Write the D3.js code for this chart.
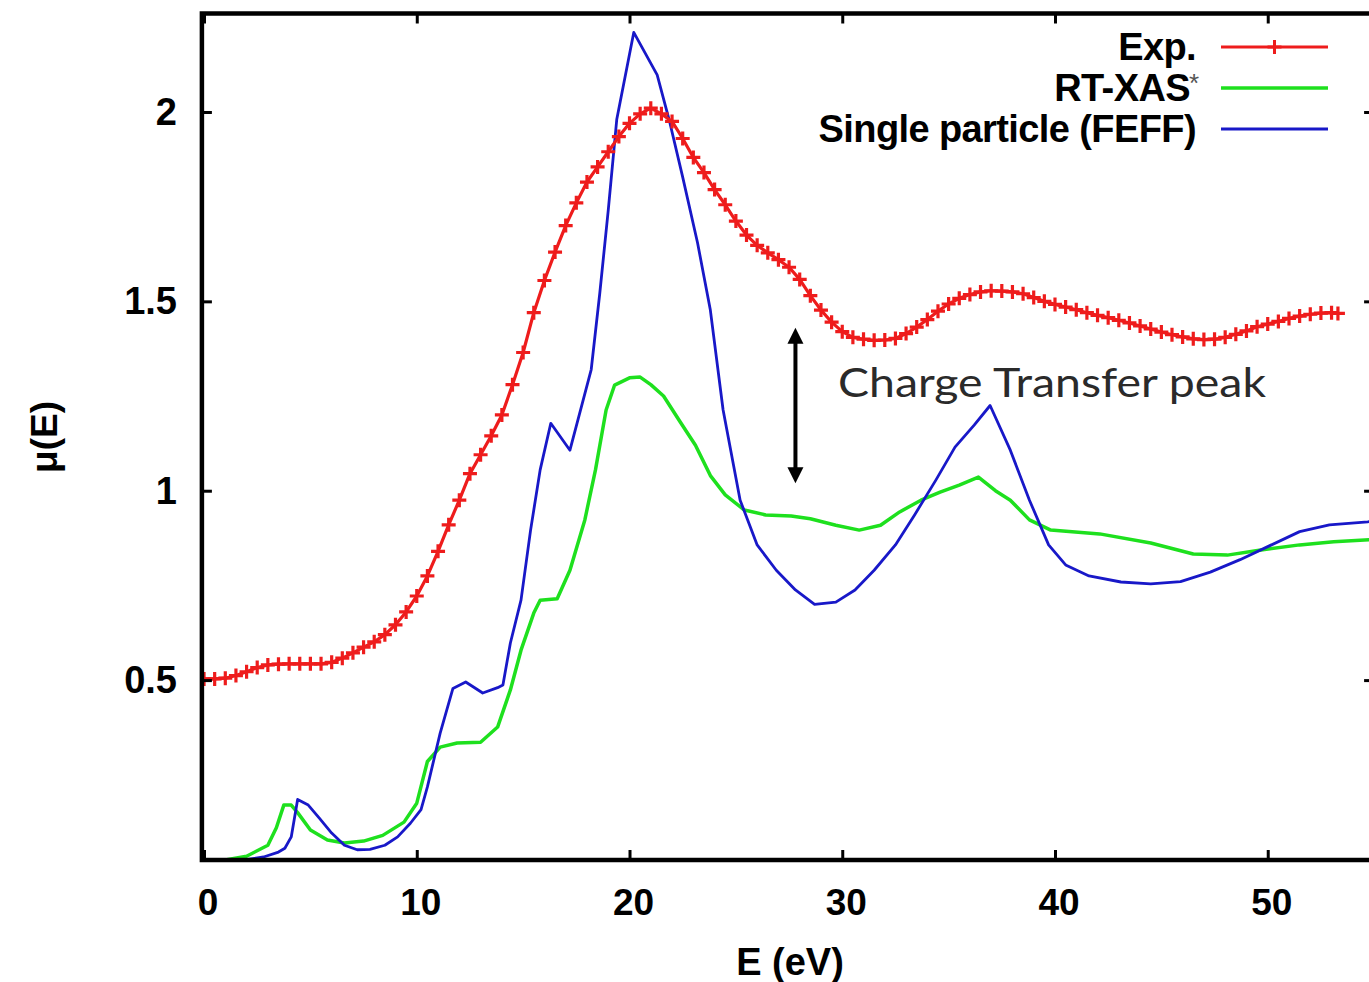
<!DOCTYPE html>
<html><head><meta charset="utf-8">
<script src="https://cdn.jsdelivr.net/npm/d3@7"></script>
<style>html,body{margin:0;padding:0;background:#fff;} svg{display:block;}</style>
</head><body>
<svg id="chart" width="1369" height="982"></svg>
<script>
// ---- data ----
const expE = [0.0,0.5,1.0,1.5,2.0,2.5,3.0,3.5,4.0,4.5,5.0,5.5,6.0,6.5,7.0,7.5,8.0,8.5,9.0,9.5,10.0,10.5,11.0,11.5,12.0,12.5,13.0,13.5,14.0,14.5,15.0,15.5,16.0,16.5,17.0,17.5,18.0,18.5,19.0,19.5,20.0,20.5,21.0,21.5,22.0,22.5,23.0,23.5,24.0,24.5,25.0,25.5,26.0,26.5,27.0,27.5,28.0,28.5,29.0,29.5,30.0,30.5,31.0,31.5,32.0,32.5,33.0,33.5,34.0,34.5,35.0,35.5,36.0,36.5,37.0,37.5,38.0,38.5,39.0,39.5,40.0,40.5,41.0,41.5,42.0,42.5,43.0,43.5,44.0,44.5,45.0,45.5,46.0,46.5,47.0,47.5,48.0,48.5,49.0,49.5,50.0,50.5,51.0,51.5,52.0,52.5,53.0,53.3];
const expMu = [0.503,0.503,0.505,0.512,0.522,0.533,0.540,0.542,0.543,0.543,0.543,0.543,0.547,0.558,0.572,0.587,0.601,0.620,0.646,0.680,0.722,0.775,0.840,0.910,0.975,1.045,1.095,1.145,1.200,1.280,1.365,1.470,1.555,1.630,1.700,1.760,1.815,1.855,1.895,1.935,1.970,1.995,2.010,1.995,1.975,1.930,1.880,1.840,1.795,1.755,1.712,1.675,1.648,1.628,1.610,1.590,1.558,1.515,1.477,1.445,1.420,1.405,1.400,1.397,1.398,1.402,1.415,1.432,1.452,1.474,1.493,1.508,1.518,1.525,1.528,1.527,1.525,1.520,1.510,1.500,1.492,1.485,1.478,1.470,1.463,1.457,1.450,1.443,1.435,1.427,1.419,1.412,1.406,1.401,1.399,1.400,1.405,1.413,1.422,1.433,1.440,1.447,1.455,1.461,1.466,1.469,1.470,1.468];

const rtE = [1.0,2.0,3.0,3.4,3.75,4.1,4.4,5.0,5.8,6.6,7.5,8.4,9.4,10.0,10.5,11.1,11.9,13.0,13.8,14.4,14.9,15.5,15.8,16.6,17.2,17.9,18.4,18.9,19.3,20.0,20.5,21.0,21.6,22.4,23.1,23.8,24.5,25.4,26.4,27.6,28.5,29.7,30.8,31.8,32.7,33.7,34.6,35.5,36.4,37.2,37.9,38.8,39.8,42.1,44.5,46.5,48.1,49.6,51.5,53.1,55.0];
const rtMu = [0.025,0.035,0.064,0.110,0.170,0.170,0.150,0.104,0.078,0.070,0.075,0.090,0.125,0.175,0.285,0.323,0.334,0.336,0.376,0.474,0.579,0.677,0.711,0.715,0.790,0.923,1.055,1.213,1.279,1.298,1.300,1.280,1.250,1.180,1.120,1.040,0.989,0.949,0.936,0.933,0.926,0.909,0.896,0.909,0.944,0.975,0.996,1.015,1.036,1.000,0.975,0.923,0.896,0.886,0.862,0.833,0.830,0.843,0.857,0.865,0.871];

const feffE = [1.0,1.9,2.8,3.5,3.8,4.1,4.4,4.9,5.4,6.0,6.6,7.2,7.8,8.5,9.1,9.7,10.2,10.5,11.1,11.7,12.3,13.1,13.8,14.05,14.4,14.9,15.35,15.8,16.3,17.2,18.2,18.6,19.0,19.4,20.2,21.3,21.9,22.5,23.2,23.8,24.4,25.2,26.0,26.9,27.8,28.7,29.7,30.6,31.5,32.5,33.4,34.4,35.3,36.2,36.95,37.9,38.8,39.7,40.5,41.6,43.1,44.5,45.9,47.3,48.7,50.1,51.5,52.9,54.7,55.0];
const feffMu = [0.022,0.025,0.033,0.046,0.056,0.086,0.185,0.170,0.137,0.096,0.064,0.052,0.053,0.064,0.086,0.122,0.158,0.218,0.360,0.478,0.495,0.466,0.480,0.487,0.598,0.711,0.896,1.055,1.178,1.107,1.320,1.520,1.740,1.980,2.210,2.098,1.971,1.828,1.654,1.477,1.213,0.975,0.857,0.790,0.738,0.700,0.706,0.738,0.790,0.857,0.936,1.028,1.115,1.173,1.225,1.107,0.975,0.857,0.804,0.775,0.759,0.754,0.760,0.785,0.818,0.855,0.892,0.910,0.918,0.920];

const xTicks = [0,10,20,30,40,50];
const yTicks = [0.5,1,1.5,2];
const legendNames = ["Exp.","RT-XAS","Single particle (FEFF)"];
const annotationText = "Charge Transfer peak";
const arrowE = 27.8, arrowFrom = 1.02, arrowTo = 1.43;

// ---- layout ----
const svg = d3.select("#chart");
const x = d3.scaleLinear().domain([-0.1, 55]).range([201.9, 1374.1]);
const y = d3.scaleLinear().domain([0.025, 2.26]).range([860, 13.5]);
const L = x.range()[0], R = x.range()[1], T = y.range()[1], B = y.range()[0];

const colors = {exp:"#ee1c1c", rt:"#1ee01e", feff:"#1818c8"};
const font = "'Liberation Sans', Arial, sans-serif";

svg.append("defs").append("clipPath").attr("id","clip")
  .append("rect").attr("x",L).attr("y",T).attr("width",R-L).attr("height",B-T);

const plot = svg.append("g").attr("clip-path","url(#clip)");
const line = d3.line().x(d=>x(d[0])).y(d=>y(d[1]));

const expData = expE.map((e,i)=>[e,expMu[i]]);
const rtData = rtE.map((e,i)=>[e,rtMu[i]]);
const feffData = feffE.map((e,i)=>[e,feffMu[i]]);

plot.append("path").datum(rtData).attr("d",line).attr("fill","none")
  .attr("stroke",colors.rt).attr("stroke-width",3.5).attr("stroke-linejoin","round");
plot.append("path").datum(feffData).attr("d",line).attr("fill","none")
  .attr("stroke",colors.feff).attr("stroke-width",2.8).attr("stroke-linejoin","round");
plot.append("path").datum(expData).attr("d",line).attr("fill","none")
  .attr("stroke",colors.exp).attr("stroke-width",3.2).attr("stroke-linejoin","round");
const plus = "M-7,0H7M0,-7V7";
plot.selectAll("path.mk").data(expData).enter().append("path").attr("class","mk")
  .attr("d",plus).attr("transform",d=>`translate(${x(d[0])},${y(d[1])})`)
  .attr("stroke",colors.exp).attr("stroke-width",3.2).attr("fill","none");

// ---- axes (gnuplot-like: inward ticks on all sides) ----
const tickLen = 10;
const ax = svg.append("g");
const xb = d3.axisBottom(x).tickValues(xTicks).tickSize(-tickLen).tickFormat("");
const xt = d3.axisTop(x).tickValues(xTicks).tickSize(-tickLen).tickFormat("");
const yl = d3.axisLeft(y).tickValues(yTicks).tickSize(-tickLen).tickFormat("");
const yr = d3.axisRight(y).tickValues(yTicks).tickSize(-tickLen).tickFormat("");
ax.append("g").attr("transform",`translate(0,${B})`).call(xb);
ax.append("g").attr("transform",`translate(0,${T})`).call(xt);
ax.append("g").attr("transform",`translate(${L},0)`).call(yl);
ax.append("g").attr("transform",`translate(${R},0)`).call(yr);
ax.selectAll(".domain").remove();
ax.selectAll(".tick line").attr("stroke","#000").attr("stroke-width",3);
svg.append("rect").attr("x",L).attr("y",T).attr("width",R-L).attr("height",B-T)
  .attr("fill","none").attr("stroke","#000").attr("stroke-width",4.5);

// tick labels
svg.append("g").selectAll("text").data(xTicks).enter().append("text")
  .attr("x",d=>x(d)+4).attr("y",915).attr("text-anchor","middle")
  .attr("font-family",font).attr("font-weight","bold").attr("font-size",37)
  .text(d=>d);
svg.append("g").selectAll("text").data(yTicks).enter().append("text")
  .attr("x",177).attr("y",d=>y(d)+13).attr("text-anchor","end")
  .attr("font-family",font).attr("font-weight","bold").attr("font-size",38)
  .text(d=>d);

// axis titles
svg.append("text").attr("x",790).attr("y",975).attr("text-anchor","middle")
  .attr("font-family",font).attr("font-weight","bold").attr("font-size",38)
  .text("E (eV)");
svg.append("text").attr("transform","translate(57,437) rotate(-90)").attr("text-anchor","middle")
  .attr("font-family",font).attr("font-weight","bold").attr("font-size",37)
  .text("μ(E)");

// ---- legend ----
const legY = [47, 88, 129];
const legCols = [colors.exp, colors.rt, colors.feff];
const lg = svg.append("g");
legendNames.forEach((n,i)=>{
  lg.append("text").attr("x", i===1 ? 1190 : 1196).attr("y",legY[i]+13)
    .attr("text-anchor","end").attr("font-family",font).attr("font-weight","bold")
    .attr("font-size",38).attr("letter-spacing",-0.6).text(n);
  lg.append("line").attr("x1",1221).attr("x2",1328).attr("y1",legY[i]).attr("y2",legY[i])
    .attr("stroke",legCols[i]).attr("stroke-width",i===1?3.5:3);
});
lg.append("text").attr("x",1189).attr("y",92).attr("font-family",font)
  .attr("font-size",26).attr("fill","#555").text("*");
lg.append("path").attr("d",plus).attr("transform",`translate(${(1221+1328)/2},47)`)
  .attr("stroke",colors.exp).attr("stroke-width",3);

// ---- annotation ----
const ann = svg.append("g");
const axX = x(arrowE);
ann.append("line").attr("x1",axX).attr("x2",axX).attr("y1",y(arrowTo)+12).attr("y2",y(arrowFrom)-12)
  .attr("stroke","#000").attr("stroke-width",4);
ann.append("path").attr("d",`M${axX},${y(arrowTo)}l-8,16h16z`).attr("fill","#000");
ann.append("path").attr("d",`M${axX},${y(arrowFrom)}l-8,-16h16z`).attr("fill","#000");
ann.append("text").attr("x",838).attr("y",397).attr("font-family","Lato, 'Open Sans', sans-serif")
  .attr("font-size",40).attr("fill","#2a2a2a").attr("textLength",428).attr("lengthAdjust","spacingAndGlyphs")
  .text(annotationText);
</script>
</body></html>
